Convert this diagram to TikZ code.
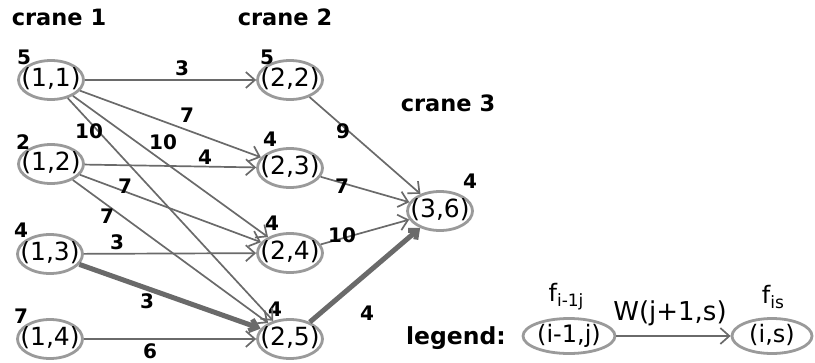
\documentclass[tikz,border=0pt]{standalone}
\usepackage{fontspec}
\setmainfont{DejaVu Sans}
\usetikzlibrary{arrows.meta,shapes.geometric}
\definecolor{ringc}{HTML}{9A9A9A}
\definecolor{edgec}{HTML}{6A6A6A}
\newcommand{\nt}[1]{\makebox[30pt][c]{#1}}
\begin{document}
\begin{tikzpicture}[x=1pt,y=-1pt,
  st/.style={ellipse, draw=ringc, line width=2.8pt, fill=white, minimum width=65pt, minimum height=39pt, inner sep=0pt, text height=18.5pt, text depth=5pt, font=\fontsize{25}{25}\selectfont},
  lg/.style={st, minimum width=92pt, minimum height=35pt, text height=18pt, text depth=5pt, font=\fontsize{24}{24}\selectfont},
  wt/.style={font=\fontsize{20}{20}\selectfont\bfseries, inner sep=0pt},
  hd/.style={font=\fontsize{22.5}{22.5}\selectfont\bfseries, inner sep=0pt},
  lt/.style={font=\fontsize{24}{24}\selectfont, inner sep=0pt},
  ed/.style={draw=edgec, line width=1.7pt, -{Straight Barb[length=9pt,width=16pt]}},
  ted/.style={draw=edgec, line width=5pt, -{Straight Barb[length=7pt,width=12pt]}},
]
\useasboundingbox (0,0) rectangle (815,362);
% headings
\node[hd] (h1) at (59,17) {crane 1};
\node[hd] (h2) at (285,17) {crane 2};
\node[hd] (h3) at (448,103) {crane 3};
% state nodes
\node[st] (n11) at (51,80) {\nt{(1,1)}};
\node[st] (n12) at (51,164) {\nt{(1,2)}};
\node[st] (n13) at (50,254) {\nt{(1,3)}};
\node[st] (n14) at (50,339) {\nt{(1,4)}};
\node[st] (n22) at (290,80) {\nt{(2,2)}};
\node[st] (n23) at (290,168) {\nt{(2,3)}};
\node[st] (n24) at (290,253) {\nt{(2,4)}};
\node[st] (n25) at (290,339) {\nt{(2,5)}};
\node[st] (n36) at (440,211) {\nt{(3,6)}};
% node values
\node[wt] (w11) at (24,57) {5};
\node[wt] (w12) at (23,142) {2};
\node[wt] (w13) at (21,230) {4};
\node[wt] (w14) at (21,316) {7};
\node[wt] (w22) at (267,57) {5};
\node[wt] (w23) at (270,139) {4};
\node[wt] (w24) at (272,223) {4};
\node[wt] (w25) at (275,309) {4};
\node[wt] (w36) at (470,181) {4};
% edges
\draw[ed] (n11) -- (n22);
\draw[ed] (n11) -- (n23);
\draw[ed] (n11) -- (n24);
\draw[ed] (n11) -- (n25);
\draw[ed] (n12) -- (n23);
\draw[ed] (n12) -- (n24);
\draw[ed] (n12) -- (n25);
\draw[ed] (n13) -- (n24);
\draw[ted] (n13) -- (n25);
\draw[ed] (n14) -- (n25);
\draw[ed] (n22) -- (n36);
\draw[ed] (n23) -- (n36);
\draw[ed] (n24) -- (n36);
\draw[ted] (n25) -- (n36);
% edge labels
\node[wt] (e1) at (182,68) {3};
\node[wt] (e2) at (187,115) {7};
\node[wt] (e3) at (89,131) {10};
\node[wt] (e4) at (163,142) {10};
\node[wt] (e5) at (205,157) {4};
\node[wt] (e6) at (125,186) {7};
\node[wt] (e7) at (107,216) {7};
\node[wt] (e8) at (117,242) {3};
\node[wt] (e9) at (147,301) {3};
\node[wt] (e10) at (150,351) {6};
\node[wt] (e11) at (343,131) {9};
\node[wt] (e12) at (342,186) {7};
\node[wt] (e13) at (342,235) {10};
\node[wt] (e14) at (367,313) {4};
% legend
\node[hd, font=\fontsize{23.5}{23.5}\selectfont\bfseries] (lgt) at (456,338) {legend:};
\node[lg] (L1) at (569,336) {\nt{(i-1,j)}};
\node[lg, minimum width=80pt] (L2) at (772,336) {\nt{(i,s)}};
\draw[ed] (L1) -- (L2);
\node[lt] (f1) at (566,297) {f\raisebox{-5pt}{\fontsize{17}{17}\selectfont i-1j}};
\node[lt] (f2) at (773,297) {f\raisebox{-5pt}{\fontsize{17}{17}\selectfont is}};
\node[lt, font=\fontsize{26}{26}\selectfont] (wl) at (670,313) {W(j+1,s)};
\end{tikzpicture}
\end{document}
